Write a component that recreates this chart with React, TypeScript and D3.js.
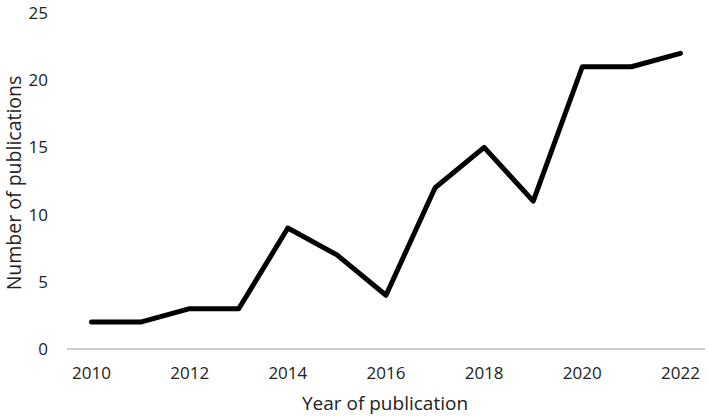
import * as d3 from 'd3'
import { useEffect, useRef } from 'react'

const width = 709, height = 418
const years = ['2010', '2011', '2012', '2013', '2014', '2015', '2016', '2017', '2018', '2019', '2020', '2021', '2022']
const counts = [2, 2, 3, 3, 9, 7, 4, 12, 15, 11, 21, 21, 22]
const yTicks = [0, 5, 10, 15, 20, 25]

const margin = { top: 13, right: 4, bottom: 69, left: 67 }
const font = '"Open Sans", sans-serif'

const chart = (node: SVGSVGElement) => {
  const svg = d3.select(node)
  svg.selectAll('*').remove()

  const x = d3.scalePoint<string>()
    .domain(years)
    .range([margin.left, width - margin.right])
    .padding(0.5)

  const y = d3.scaleLinear()
    .domain([0, 25])
    .range([height - margin.bottom, margin.top])

  // baseline
  svg.append('line')
    .attr('x1', margin.left).attr('x2', width - margin.right)
    .attr('y1', y(0)).attr('y2', y(0))
    .attr('stroke', '#bfbfbf')
    .attr('stroke-width', 1.3)

  svg.append('g')
    .attr('font-family', font)
    .attr('font-size', 17)
    .attr('fill', '#222')
    .attr('text-anchor', 'end')
  .selectAll('text')
  .data(yTicks)
  .join('text')
    .attr('x', 48)
    .attr('y', d => y(d))
    .attr('dy', '0.35em')
    .text(d => d)

  svg.append('g')
    .attr('font-family', font)
    .attr('font-size', 17)
    .attr('fill', '#222')
    .attr('text-anchor', 'middle')
  .selectAll('text')
  .data(years.filter((_, i) => i % 2 === 0))
  .join('text')
    .attr('x', d => x(d)!)
    .attr('y', y(0) + 30)
    .text(d => d)

  svg.append('path')
    .datum(counts)
    .attr('fill', 'none')
    .attr('stroke', '#000')
    .attr('stroke-width', 5)
    .attr('stroke-linejoin', 'round')
    .attr('stroke-linecap', 'round')
    .attr('d', d3.line<number>()
      .x((_, i) => x(years[i])!)
      .y(d => y(d)))

  svg.append('text')
    .attr('font-family', font)
    .attr('font-size', 19)
    .attr('fill', '#222')
    .attr('text-anchor', 'middle')
    .attr('x', 385)
    .attr('y', 410)
    .text('Year of publication')

  svg.append('text')
    .attr('font-family', font)
    .attr('font-size', 19.5)
    .attr('fill', '#222')
    .attr('text-anchor', 'middle')
    .attr('transform', `translate(21,183) rotate(-90)`)
    .text('Number of publications')
}

export default function App() {
  const ref = useRef<SVGSVGElement>(null)
  useEffect(() => {
    if (ref.current) chart(ref.current)
  }, [])
  return (
    <svg ref={ref} width={width} height={height}
      style={{ position: 'absolute', left: 0, top: 0, background: '#fff' }} />
  )
}
